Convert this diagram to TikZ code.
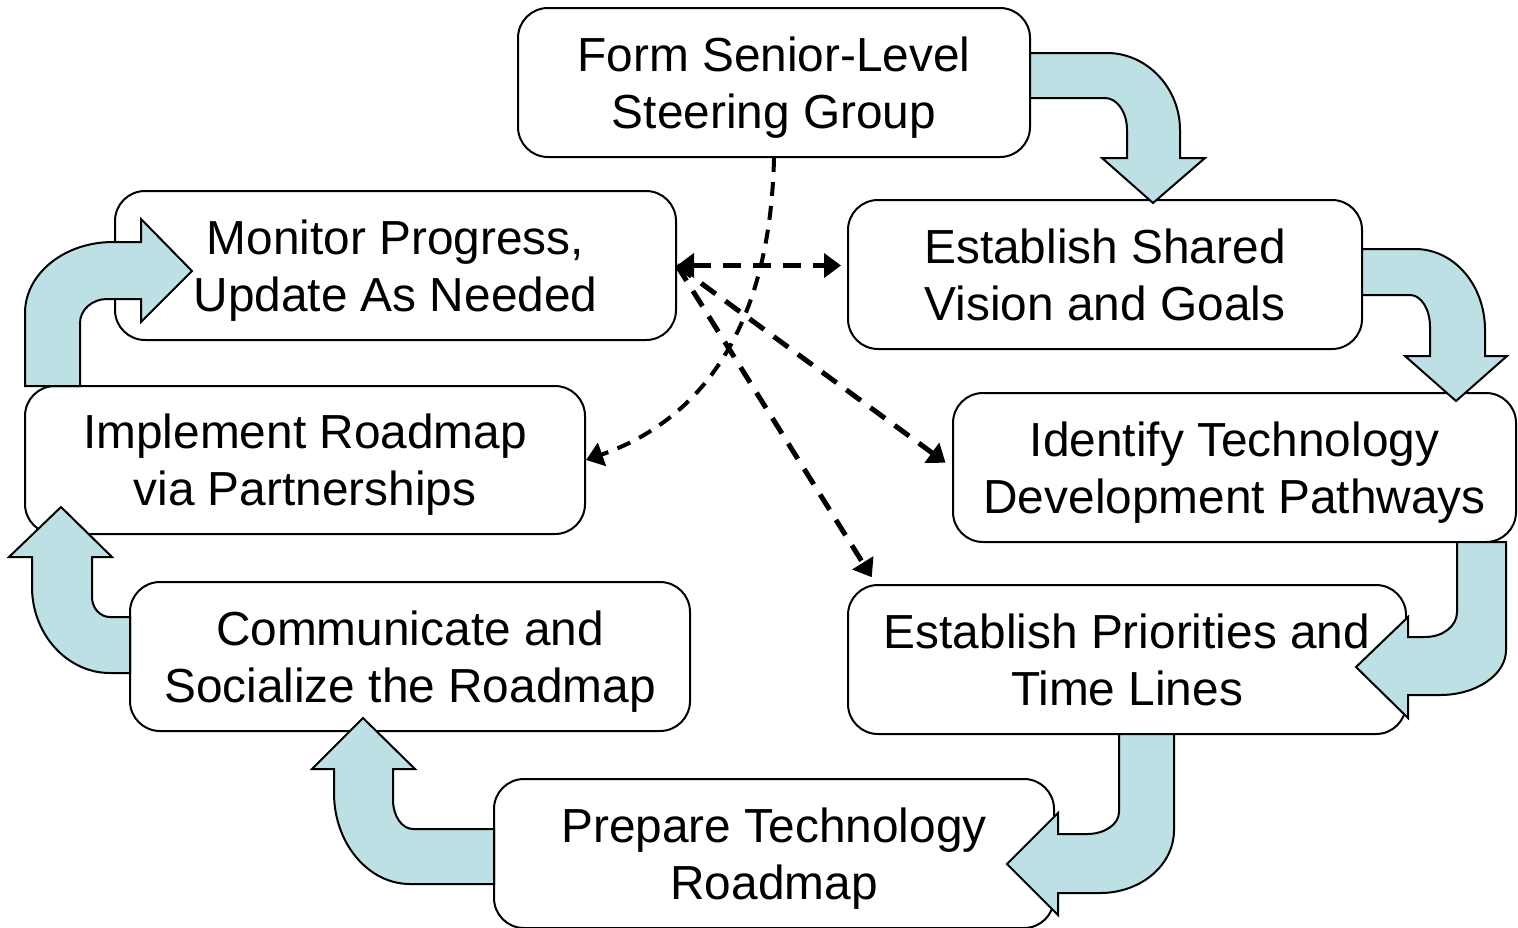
\documentclass[tikz,border=0pt]{standalone}
\usepackage{fontspec}
\setmainfont{Liberation Sans}
\usepackage{xcolor}
\usetikzlibrary{arrows.meta}
\definecolor{arrowblue}{RGB}{188,224,228}

\begin{document}
\begin{tikzpicture}[x=0.5pt,y=-0.5pt,
  >={Triangle[length=8.5pt,width=12pt]},
  stepbox/.style={draw,line width=1pt,rounded corners=15pt,fill=white,align=center,minimum height=74.5pt,inner sep=0pt,text depth=0pt,font=\fontsize{23.9}{28.5}\selectfont},
  bentarrow/.style={draw,fill=arrowblue,line width=1pt,line join=miter},
  linkdash/.style={line width=2.5pt,dash pattern=on 9pt off 6pt},
  curvedash/.style={line width=2pt,dash pattern=on 7pt off 5pt}]

\useasboundingbox (0,0) rectangle (1518,927);


% top
\node[stepbox,minimum width=256pt] (StepForm) at (774,82.5) {Form Senior-Level\\Steering Group};

% right side
\node[stepbox,minimum width=257pt] (StepVision) at (1105,274.5) {Establish Shared\\Vision and Goals};
\node[stepbox,minimum width=281.5pt] (StepPathways) at (1234.5,467.5) {Identify Technology\\Development Pathways};
\node[stepbox,minimum width=279pt] (StepPriorities) at (1127,659.5) {Establish Priorities and\\Time Lines};

% bottom
\node[stepbox,minimum width=280pt] (StepRoadmap) at (774,853.5) {Prepare Technology\\Roadmap};

% left side
\node[stepbox,minimum width=280pt] (StepSocialize) at (410,656.5) {Communicate and\\Socialize the Roadmap};
\node[stepbox,minimum width=280pt,minimum height=74pt] (StepImplement) at (305,460) {Implement Roadmap\\via Partnerships};
\node[stepbox,minimum width=280.5pt] (StepMonitor) at (395.5,265.5) {Monitor Progress,\\Update As Needed};



% bent arrows round the cycle
\draw[bentarrow] (1030,53) -- (1107,53) .. controls (1147,53) and (1180,88) .. (1180,130) -- (1180,158) -- (1205,158) -- (1153,203) -- (1102,158) -- (1127,158) -- (1127,130) .. controls (1127,112) and (1117,98) .. (1105,98) -- (1030,98) -- cycle;

\draw[bentarrow] (1362,249) -- (1415,249) .. controls (1454,249) and (1485,285) .. (1485,330) -- (1485,356) -- (1507,356) -- (1456,401) -- (1405,356) -- (1430,356) -- (1430,327) .. controls (1430,309) and (1421,295) .. (1410,295) -- (1362,295) -- cycle;

\draw[bentarrow] (1457,542) -- (1457,612) .. controls (1457,626) and (1443,637) .. (1425,637) -- (1408,637) -- (1408,617) -- (1356,667) -- (1408,718) -- (1408,695) -- (1440,695) .. controls (1476,695) and (1506,675) .. (1506,650) -- (1506,542) -- cycle;

\draw[bentarrow] (1119,734) -- (1119,812) .. controls (1119,824) and (1105,834) .. (1087,834) -- (1058,834) -- (1058,813) -- (1007,864) -- (1058,915) -- (1058,893) -- (1100,893) .. controls (1141,893) and (1174,865) .. (1174,830) -- (1174,734) -- cycle;

\draw[bentarrow] (494,829) -- (413,829) .. controls (402,829) and (393,816) .. (393,800) -- (393,769) -- (415,769) -- (363,718) -- (312,769) -- (334,769) -- (334,793) .. controls (334,843) and (368,884) .. (410,884) -- (494,884) -- cycle;

\draw[bentarrow] (130,617) -- (110,617) .. controls (100,617) and (92,608) .. (92,597) -- (92,557) -- (112,557) -- (61,507) -- (9,557) -- (32,557) -- (32,587) .. controls (32,634) and (67,673) .. (110,673) -- (130,673) -- cycle;

\draw[bentarrow] (80,386) -- (80,323) .. controls (80,310) and (92,299) .. (107,299) -- (141,299) -- (141,322) -- (192,271) -- (141,219) -- (141,242) -- (113,242) .. controls (64,242) and (25,274) .. (25,313) -- (25,386) -- cycle;



% dashed links
\draw[linkdash,<->,shorten >=3pt] (StepMonitor.east) -- (StepMonitor.east -| StepVision.west);
\draw[linkdash,->,shorten >=4pt] (StepMonitor.east) -- (StepPathways.west);
\draw[linkdash,->,shorten >=4pt] (StepMonitor.east) -- ([xshift=14.5pt]StepPriorities.north west);

\draw[curvedash,->] (StepForm.south) .. controls (770,330) and (700,420) .. (StepImplement.east);

\end{tikzpicture}
\end{document}
